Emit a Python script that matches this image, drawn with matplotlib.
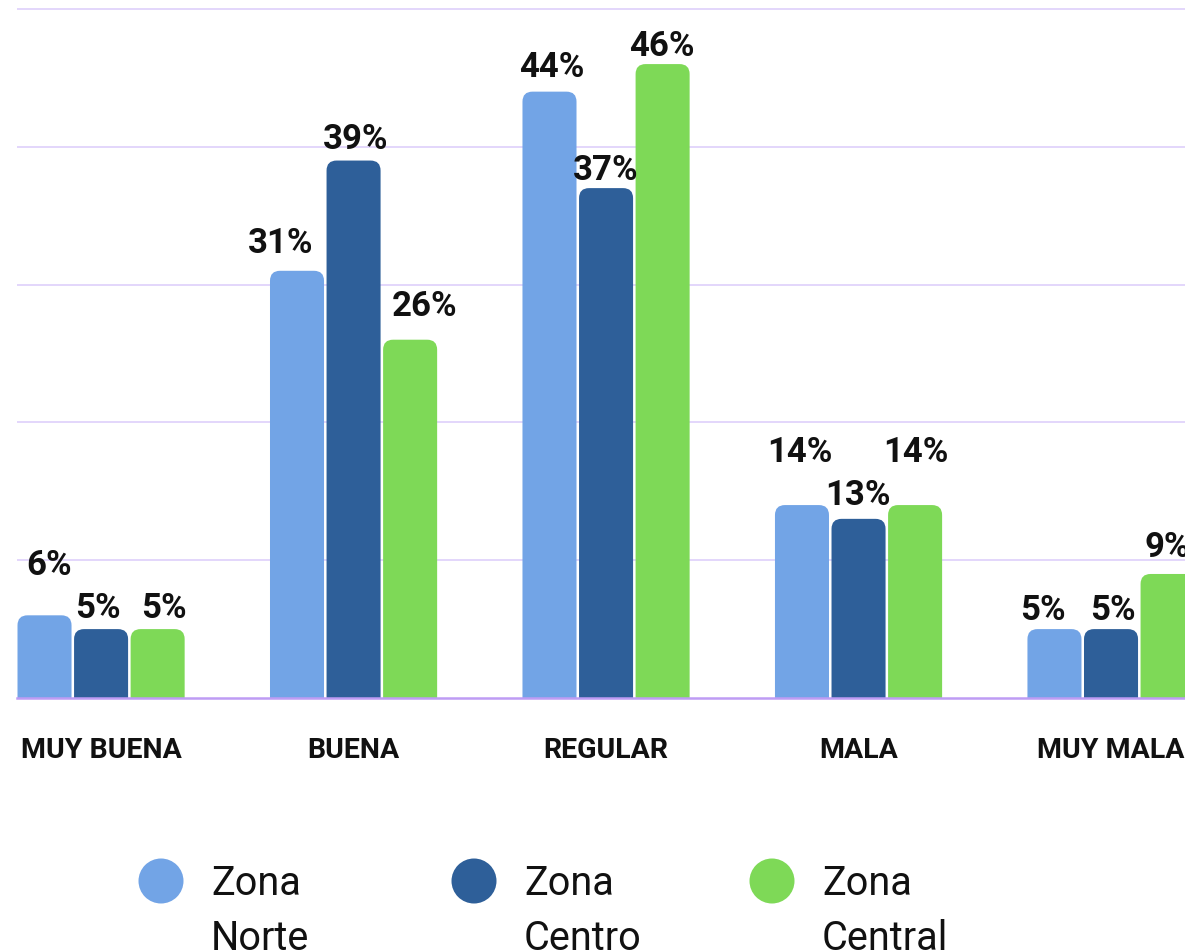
import matplotlib
matplotlib.use("Agg")
import matplotlib.pyplot as plt
from matplotlib.patches import FancyBboxPatch, Circle

# -------------------------------
# Data
# -------------------------------
categories = ["MUY BUENA", "BUENA", "REGULAR", "MALA", "MUY MALA"]
series_names = ["Zona Norte", "Zona Centro", "Zona Central"]
zona_norte = [6, 31, 44, 14, 5]
zona_centro = [5, 39, 37, 13, 5]
zona_central = [5, 26, 46, 14, 9]
series_values = [zona_norte, zona_centro, zona_central]

colors = ["#72A4E6", "#2E5F99", "#7ED957"]

# label nudges in pixels (dx, gap between bar top and text baseline)
label_nudge = [
    [(5, 40), (-16, 18), (2, 15), (-2, 43), (-12, 9)],
    [(-3, 11), (2, 12), (0, 8), (-1, 14), (2, 9)],
    [(6, 11), (14, 24), (-1, 8), (1, 43), (0, 17)],
]

plt.rcParams["font.family"] = ["Roboto", "DejaVu Sans"]

W, H = 1185, 951
fig = plt.figure(figsize=(W / 100, H / 100), dpi=100)
ax = fig.add_axes([17 / W, (H - 698) / H, 1 - 17 / W, 698 / H])

bar_w = 0.214
step = 0.224
ax.set_xlim(-0.333, 4.293)
ax.set_ylim(0, 50.65)

# pixel scale for rounded tops
px_x = (W - 17) / (4.293 + 0.333)
px_y = 698 / 50.65
radius = 10 / px_x
aspect = px_x / px_y

for s, vals in enumerate(series_values):
    off = (s - 1) * step
    for i, v in enumerate(vals):
        x0 = i + off - bar_w / 2
        box = FancyBboxPatch((x0, -3), bar_w, v + 3,
                             boxstyle=f"round,pad=0,rounding_size={radius}",
                             mutation_aspect=aspect,
                             facecolor=colors[s], edgecolor="none", zorder=2)
        ax.add_patch(box)
        dx, dy = label_nudge[s][i]
        ax.annotate(f"{v}%", xy=(i + off, v), xytext=(dx * 0.72, dy * 0.72),
                    textcoords="offset points", ha="center", va="baseline",
                    fontsize=25, fontweight="bold", color="#111111",
                    annotation_clip=False, zorder=3)

# grid and baseline
for g in [10, 20, 30, 40, 50]:
    ax.axhline(g, color="#E3D7FB", lw=1.44, zorder=1)
ax.axhline(0, color="#BE9CF4", lw=1.8, zorder=4, clip_on=False)

for sp in ax.spines.values():
    sp.set_visible(False)
ax.set_yticks([])
ax.set_xticks(range(len(categories)))
ax.set_xticklabels(categories, fontsize=20.5, fontweight="bold", color="#111111")
ax.tick_params(axis="x", length=0, pad=28)

# legend drawn by hand
leg_x = [161, 474, 772]
for s, name in enumerate(series_names):
    cx = leg_x[s]
    circ = Circle((cx / 100, (H - 881) / 100), 22.5 / 100, transform=fig.dpi_scale_trans,
                  facecolor=colors[s], edgecolor="none")
    fig.add_artist(circ)
    first, second = name.split(" ")
    fig.text((cx + 50) / W, (H - 895) / H, first, fontsize=28.5, va="baseline",
             ha="left", color="#111111")
    fig.text((cx + 50) / W, (H - 950) / H, second, fontsize=28.5, va="baseline",
             ha="left", color="#111111")

fig.savefig("out.png", dpi=100)
